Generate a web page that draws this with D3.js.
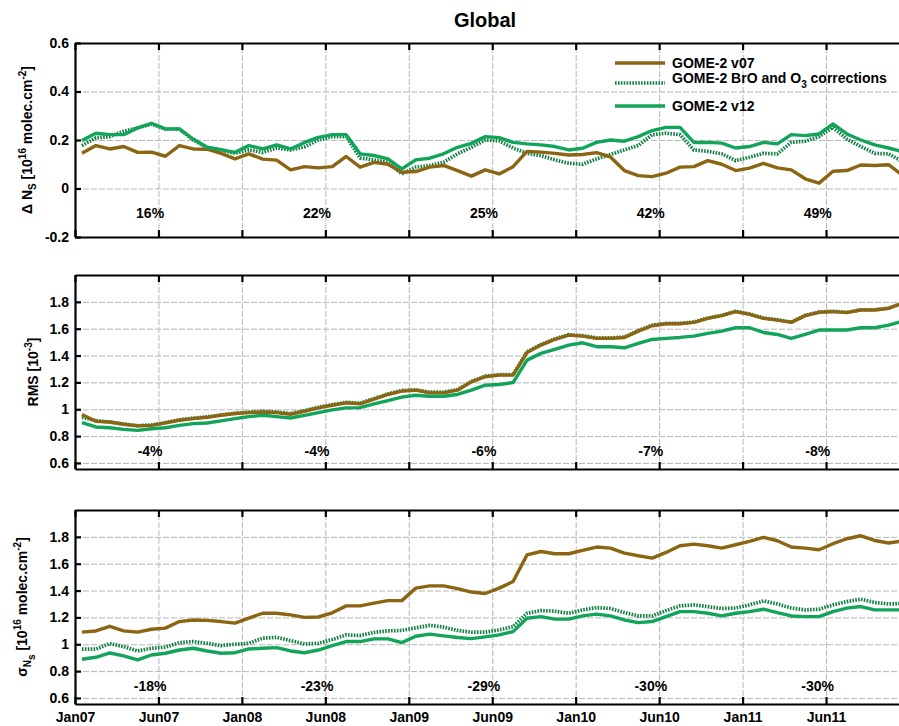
<!DOCTYPE html>
<html>
<head>
<meta charset="utf-8">
<script src="https://cdn.jsdelivr.net/npm/d3@7"></script>
<style>
  body { margin: 0; background: #fff; }
  svg { font-family: "Liberation Sans", Arial, sans-serif; font-weight: bold; }
</style>
</head>
<body>
<script>
// month index, Jan07 = 0 ; points sit mid-month
var months = d3.range(60);
var tickMonths = [0, 6, 12, 18, 24, 30, 36, 42, 48, 54];
var tickLabels = ['Jan07', 'Jun07', 'Jan08', 'Jun08', 'Jan09', 'Jun09', 'Jan10', 'Jun10', 'Jan11', 'Jun11'];

var seriesNames = ['GOME-2 v07', 'GOME-2 BrO and O3 corrections', 'GOME-2 v12'];

// delta N_S
var dnV07 = [0.145,0.177,0.163,0.173,0.149,0.15,0.133,0.177,0.163,0.162,0.145,0.122,0.143,0.121,0.117,0.077,0.09,0.085,0.09,0.132,
  0.088,0.108,0.10,0.067,0.07,0.088,0.095,0.074,0.051,0.077,0.06,0.09,0.153,0.15,0.145,0.138,0.14,0.148,0.13,0.074,
  0.053,0.049,0.063,0.088,0.09,0.115,0.10,0.074,0.084,0.104,0.085,0.077,0.040,0.022,0.071,0.074,0.097,0.095,0.098,0.055];
var dnBro = [0.177,0.209,0.214,0.236,0.25,0.265,0.245,0.245,0.2,0.168,0.158,0.145,0.159,0.149,0.167,0.159,0.172,0.2,0.214,0.214,
  0.126,0.118,0.108,0.06,0.088,0.095,0.108,0.143,0.17,0.2,0.196,0.167,0.145,0.136,0.118,0.104,0.10,0.122,0.14,0.159,
  0.177,0.222,0.228,0.222,0.159,0.153,0.143,0.115,0.129,0.145,0.143,0.19,0.195,0.214,0.252,0.204,0.173,0.145,0.143,0.11];
var dnV12 = [0.198,0.228,0.222,0.222,0.25,0.269,0.246,0.246,0.204,0.17,0.16,0.149,0.177,0.163,0.18,0.163,0.19,0.211,0.222,0.222,
  0.143,0.136,0.122,0.081,0.118,0.125,0.143,0.17,0.186,0.214,0.21,0.19,0.184,0.18,0.173,0.159,0.166,0.19,0.2,0.195,
  0.214,0.239,0.252,0.252,0.19,0.19,0.187,0.167,0.173,0.19,0.184,0.222,0.218,0.225,0.266,0.225,0.2,0.18,0.167,0.152];

// RMS
var rmsV07 = [0.96,0.91,0.905,0.888,0.876,0.88,0.898,0.918,0.93,0.94,0.955,0.968,0.975,0.98,0.975,0.963,0.985,1.01,1.03,1.048,
  1.04,1.075,1.11,1.135,1.142,1.122,1.122,1.142,1.204,1.242,1.254,1.254,1.423,1.478,1.52,1.552,1.545,1.528,1.528,1.535,
  1.582,1.622,1.637,1.637,1.647,1.677,1.697,1.727,1.707,1.677,1.664,1.647,1.697,1.722,1.727,1.72,1.739,1.739,1.751,1.79];
var rmsBro = [0.94,0.915,0.905,0.89,0.878,0.883,0.9,0.922,0.934,0.944,0.958,0.97,0.978,0.985,0.98,0.968,0.99,1.015,1.035,1.052,
  1.045,1.08,1.115,1.14,1.145,1.127,1.127,1.147,1.208,1.247,1.258,1.258,1.428,1.482,1.524,1.556,1.548,1.532,1.532,1.538,
  1.586,1.626,1.64,1.64,1.65,1.68,1.7,1.73,1.71,1.68,1.667,1.65,1.7,1.725,1.73,1.722,1.741,1.741,1.753,1.79];
var rmsV12 = [0.90,0.868,0.862,0.85,0.843,0.855,0.862,0.88,0.893,0.898,0.913,0.93,0.945,0.955,0.945,0.935,0.955,0.975,0.995,1.01,
  1.012,1.04,1.065,1.09,1.104,1.097,1.097,1.11,1.142,1.179,1.184,1.199,1.366,1.416,1.446,1.478,1.495,1.466,1.466,1.458,
  1.49,1.52,1.528,1.535,1.545,1.565,1.582,1.607,1.607,1.572,1.557,1.528,1.557,1.59,1.59,1.59,1.607,1.607,1.627,1.655];

// sigma N_s
var sigV07 = [1.09,1.099,1.134,1.1,1.09,1.112,1.12,1.169,1.181,1.178,1.169,1.157,1.195,1.231,1.231,1.219,1.2,1.203,1.234,1.286,
  1.286,1.306,1.325,1.325,1.418,1.435,1.435,1.414,1.389,1.378,1.418,1.467,1.666,1.691,1.674,1.674,1.699,1.724,1.716,1.679,
  1.659,1.642,1.684,1.734,1.746,1.734,1.716,1.741,1.766,1.796,1.771,1.724,1.716,1.704,1.749,1.786,1.808,1.773,1.754,1.77];
var sigBro = [0.963,0.963,1.005,0.982,0.95,0.97,0.978,1.012,1.02,1.007,0.99,1.0,1.007,1.045,1.052,1.027,1.002,1.007,1.035,1.07,
  1.065,1.088,1.1,1.103,1.122,1.141,1.128,1.103,1.09,1.09,1.107,1.131,1.231,1.251,1.246,1.231,1.256,1.273,1.266,1.236,
  1.211,1.211,1.251,1.286,1.293,1.28,1.266,1.27,1.293,1.323,1.3,1.27,1.256,1.261,1.293,1.318,1.336,1.311,1.3,1.305];
var sigV12 = [0.888,0.903,0.935,0.913,0.883,0.92,0.933,0.957,0.97,0.95,0.933,0.937,0.965,0.97,0.975,0.95,0.937,0.957,0.99,1.02,
  1.02,1.04,1.04,1.012,1.06,1.075,1.062,1.05,1.042,1.055,1.07,1.094,1.194,1.206,1.187,1.187,1.211,1.224,1.211,1.181,
  1.161,1.169,1.206,1.243,1.243,1.231,1.211,1.231,1.243,1.261,1.236,1.211,1.206,1.206,1.243,1.269,1.281,1.256,1.256,1.256];

var yTicksDn = [-0.2, 0, 0.2, 0.4, 0.6];
var yTicksRms = [0.6, 0.8, 1, 1.2, 1.4, 1.6, 1.8];
var yTicksSig = [0.6, 0.8, 1, 1.2, 1.4, 1.6, 1.8];

// yearly percentages and the month they sit at
var pctMonths = [5.4, 17.4, 29.4, 41.4, 53.4];
var pctDn = ['16%', '22%', '25%', '42%', '49%'];
var pctRms = ['-4%', '-4%', '-6%', '-7%', '-8%'];
var pctSig = ['-18%', '-23%', '-29%', '-30%', '-30%'];

var colV07 = '#8b6512';
var colBro = '#128043';
var colV12 = '#12a45b';

var width = 899, height = 726;
var left = 75, right = 906;

var svg = d3.select('body').append('svg')
  .attr('width', width)
  .attr('height', height);

var x = d3.scaleLinear().domain([0, 59.75]).range([left, right]);

var panels = [
  { top: 43, bottom: 237, domain: [-0.2, 0.6], ticks: yTicksDn, data: [dnBro, dnV07, dnV12], pct: pctDn, pctY: -0.1,
    labelX: 32, label: [['Δ N', 0], ['S', 4], [' [10', 0], ['16', -6], [' molec.cm', 0], ['-2', -6], [']', 0]] },
  { top: 275, bottom: 469, domain: [0.555, 2.0], ticks: yTicksRms, data: [rmsBro, rmsV07, rmsV12], pct: pctRms, pctY: 0.69,
    labelX: 38, label: [['RMS [10', 0], ['-3', -6], [']', 0]] },
  { top: 510, bottom: 704, domain: [0.555, 2.0], ticks: yTicksSig, data: [sigBro, sigV07, sigV12], pct: pctSig, pctY: 0.69,
    labelX: 27, label: [['σ', 0], ['N', 4], ['s', 8], [' [10', 0], ['16', -6], [' molec.cm', 0], ['-2', -6], [']', 0]] }
];

// draw order: dotted first, brown, then v12 on top
var styles = [
  { color: colBro, width: 3.7, dash: '1.6,1.3' },
  { color: colV07, width: 3.4, dash: null },
  { color: colV12, width: 3.4, dash: null }
];

function fontAxis(g) {
  g.attr('font-family', '"Liberation Sans", Arial, sans-serif')
    .attr('font-size', 14)
    .attr('font-weight', 'bold');
}

function richText(sel, parts) {
  var prev = 0;
  parts.forEach(function(p) {
    sel.append('tspan')
      .attr('dy', p[1] - prev)
      .attr('font-size', p[1] === 0 ? 14 : 10)
      .text(p[0]);
    prev = p[1];
  });
}

panels.forEach(function(p, pi) {
  var y = d3.scaleLinear().domain(p.domain).range([p.bottom, p.top]);
  var h = p.bottom - p.top;

  // grid
  var grid = svg.append('g').attr('class', 'grid');
  grid.append('g')
    .attr('transform', 'translate(0,' + p.bottom + ')')
    .call(d3.axisBottom(x).tickValues(tickMonths).tickSize(-h).tickFormat(''));
  grid.append('g')
    .attr('transform', 'translate(' + left + ',0)')
    .call(d3.axisLeft(y).tickValues(p.ticks).tickSize(-(right - left)).tickFormat(''));
  grid.selectAll('.domain').remove();
  grid.selectAll('line')
    .attr('stroke', '#b8b8b8')
    .attr('stroke-width', 1)
    .attr('stroke-dasharray', '6,2');

  // lines
  var clipId = 'clip' + pi;
  svg.append('clipPath').attr('id', clipId)
    .append('rect')
    .attr('x', left).attr('y', p.top)
    .attr('width', right - left).attr('height', h);

  var line = d3.line()
    .x(function(d, i) { return x(months[i] + 0.5); })
    .y(function(d) { return y(d); });

  p.data.forEach(function(values, si) {
    var st = styles[si];
    svg.append('path')
      .datum(values)
      .attr('clip-path', 'url(#' + clipId + ')')
      .attr('fill', 'none')
      .attr('stroke', st.color)
      .attr('stroke-width', st.width)
      .attr('stroke-linejoin', 'round')
      .attr('stroke-dasharray', st.dash)
      .attr('d', line);
  });

  // axes / frame
  var axTop = svg.append('g')
    .attr('transform', 'translate(0,' + p.top + ')')
    .call(d3.axisTop(x).tickValues(tickMonths).tickSizeInner(-7).tickSizeOuter(0).tickFormat(''));
  var last = pi === panels.length - 1;
  var axBottom = svg.append('g')
    .attr('transform', 'translate(0,' + p.bottom + ')')
    .call(d3.axisBottom(x).tickValues(tickMonths).tickSizeInner(-7).tickSizeOuter(0).tickPadding(8)
      .tickFormat(function(d, i) { return last ? tickLabels[i] : ''; }));
  var axLeft = svg.append('g')
    .attr('transform', 'translate(' + left + ',0)')
    .call(d3.axisLeft(y).tickValues(p.ticks).tickSizeInner(-6).tickSizeOuter(0).tickPadding(6)
      .tickFormat(function(d) { return String(d); }));

  [axTop, axBottom, axLeft].forEach(function(ax) {
    fontAxis(ax);
    ax.select('.domain').attr('stroke', '#000').attr('stroke-width', 2.2);
    ax.selectAll('.tick line').attr('stroke', '#000').attr('stroke-width', 2.2);
    ax.selectAll('.tick text').attr('fill', '#000');
  });

  // percentages
  svg.append('g').selectAll('text')
    .data(p.pct)
    .join('text')
    .attr('x', function(d, i) { return x(pctMonths[i]); })
    .attr('y', y(p.pctY))
    .attr('dy', '0.35em')
    .attr('text-anchor', 'middle')
    .attr('font-size', 14)
    .text(function(d) { return d; });

  // y label
  var cy = (p.top + p.bottom) / 2;
  var lab = svg.append('text')
    .attr('transform', 'translate(' + p.labelX + ',' + cy + ') rotate(-90)')
    .attr('text-anchor', 'middle')
    .attr('font-size', 14);
  richText(lab, p.label);
});

// title
svg.append('text')
  .attr('x', 485)
  .attr('y', 27)
  .attr('text-anchor', 'middle')
  .attr('font-size', 20)
  .text('Global');

// legend
var legendRows = [63, 83, 106];
var legendStyles = [styles[1], styles[0], styles[2]];
var legend = svg.append('g');
legendRows.forEach(function(ly, i) {
  var st = legendStyles[i];
  legend.append('line')
    .attr('x1', 615).attr('x2', 665)
    .attr('y1', ly).attr('y2', ly)
    .attr('stroke', st.color)
    .attr('stroke-width', st.width)
    .attr('stroke-dasharray', st.dash);
  var t = legend.append('text')
    .attr('x', 672)
    .attr('y', ly)
    .attr('dy', '0.35em')
    .attr('font-size', 14);
  if (i === 1) {
    richText(t, [['GOME-2 BrO and O', 0], ['3', 5], [' corrections', 0]]);
  } else {
    t.text(seriesNames[i]);
  }
});
</script>
</body>
</html>
